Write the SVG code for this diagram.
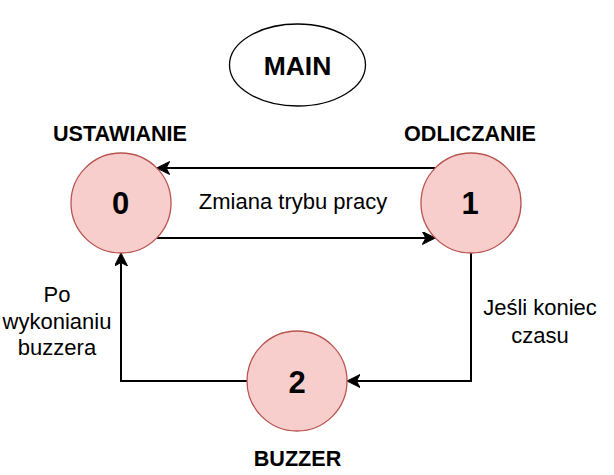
<svg xmlns="http://www.w3.org/2000/svg" width="614" height="475" viewBox="0 0 614 475">
<defs>
<marker id="arr" markerUnits="userSpaceOnUse" markerWidth="14" markerHeight="14" viewBox="0 0 14 14" refX="8" refY="6.5" orient="auto">
<path d="M13,6.5 L0,0 L3.5,6.5 L0,13 Z" fill="#000" stroke="#000" stroke-width="1"/>
</marker>
</defs>
<style>
.state{fill:#f8cecc;stroke:#b85450;stroke-width:1.3}
.edge{fill:none;stroke:#000;stroke-width:2}
.t{font-family:"Liberation Sans",Arial,sans-serif;fill:#000;text-anchor:middle}
.title{font-size:21.6px;font-weight:bold}
.num{font-size:31px;font-weight:bold}
.lbl{font-size:22px}
</style>
<rect width="614" height="475" fill="#fff"/>
<g id="connectors">
<path class="edge" d="M435.3,168 L161.7,168" marker-end="url(#arr)"/>
<path class="edge" d="M156.7,238 L430.3,238" marker-end="url(#arr)"/>
<path class="edge" d="M471,253 L471,381 L352,381" marker-end="url(#arr)"/>
<path class="edge" d="M247,381 L121,381 L121,258" marker-end="url(#arr)"/>
</g>
<g id="labels">
<text class="t lbl" x="293" y="209">Zmiana trybu pracy</text>
<text class="t lbl" x="540" y="315">Jeśli koniec</text>
<text class="t lbl" x="540" y="343">czasu</text>
<text class="t lbl" x="57" y="301.5">Po</text>
<text class="t lbl" x="57" y="329">wykonianiu</text>
<text class="t lbl" x="57" y="355">buzzera</text>
</g>
<g id="main">
<ellipse cx="297.5" cy="65" rx="68" ry="41" fill="#fff" stroke="#000" stroke-width="1.3"/>
<text class="t" x="297.5" y="74.5" font-size="26.5" font-weight="bold">MAIN</text>
</g>
<g id="state0">
<circle class="state" cx="121" cy="203" r="50"/>
<text class="t num" x="120.5" y="214.3">0</text>
<text class="t title" x="120" y="140.7">USTAWIANIE</text>
</g>
<g id="state1">
<circle class="state" cx="471" cy="203" r="50"/>
<text class="t num" x="470" y="214.3">1</text>
<text class="t title" x="470" y="140.7">ODLICZANIE</text>
</g>
<g id="state2">
<circle class="state" cx="297" cy="381" r="50"/>
<text class="t num" x="297" y="393.3">2</text>
<text class="t title" x="297.5" y="466">BUZZER</text>
</g>
</svg>
